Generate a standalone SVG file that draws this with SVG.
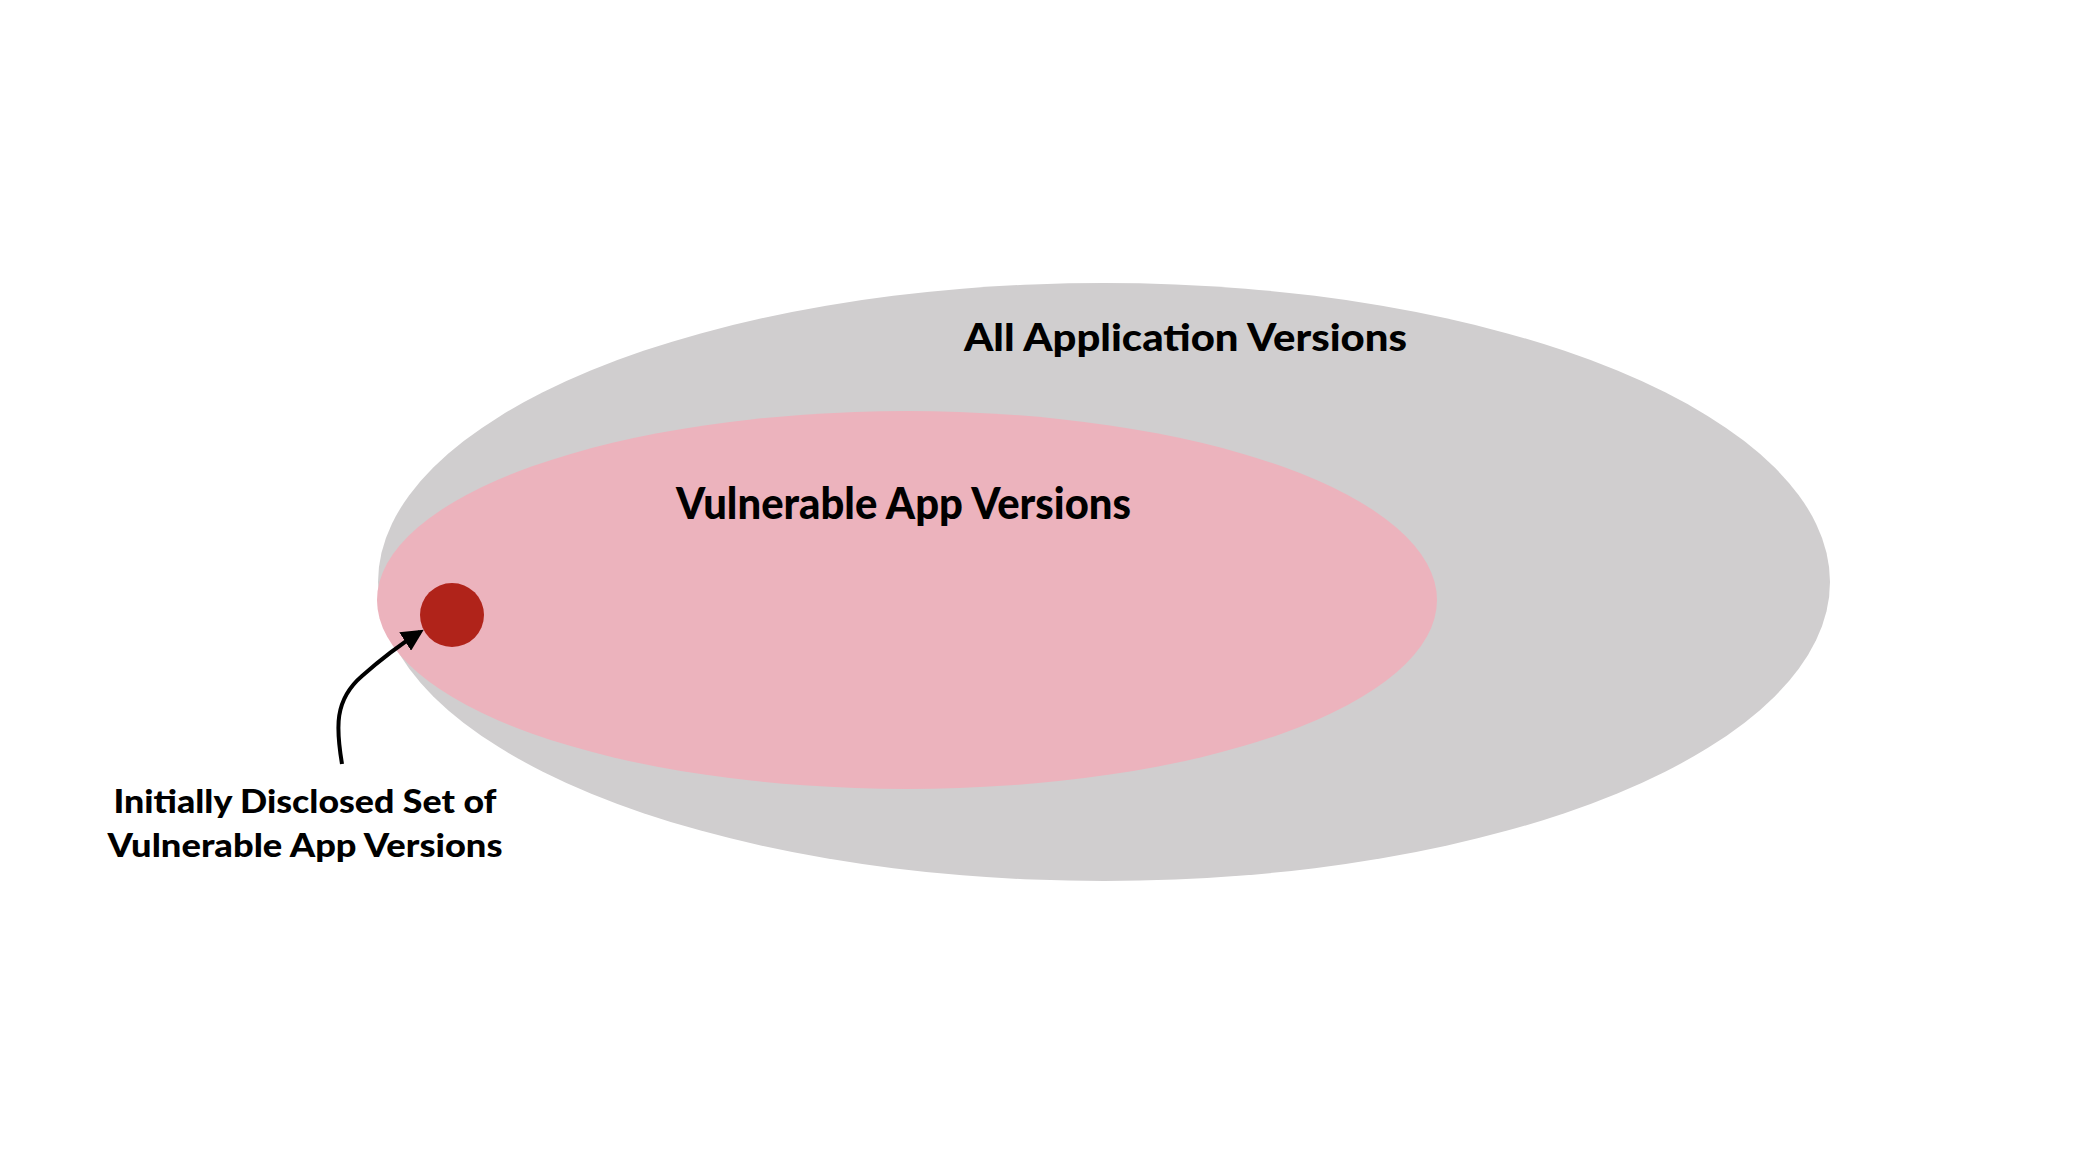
<svg xmlns="http://www.w3.org/2000/svg" width="2084" height="1162" viewBox="0 0 2084 1162">
<style>
.t{font-family:Lato,"Open Sans","Liberation Sans",sans-serif;font-weight:900;fill:#000}
</style>
<defs>
<marker id="ah" viewBox="0 0 10 10" refX="8" refY="5" markerWidth="5.5" markerHeight="5.5" orient="auto" markerUnits="strokeWidth">
<path d="M0,0 L10,5 L0,10 z" fill="#000"/>
</marker>
</defs>
<rect width="2084" height="1162" fill="#fff"/>
<g id="all-versions">
<ellipse cx="1104" cy="582" rx="726" ry="299" fill="#D0CECF"/>
<text class="t" x="964" y="351" font-size="38" textLength="443" lengthAdjust="spacingAndGlyphs">All Application Versions</text>
</g>
<g id="vulnerable-versions">
<ellipse cx="907" cy="600" rx="530" ry="189" fill="#ECB3BD"/>
<text class="t" x="676" y="519" font-size="43" textLength="455" lengthAdjust="spacingAndGlyphs">Vulnerable App Versions</text>
</g>
<g id="initial-set">
<circle cx="452" cy="615" r="32" fill="#B0231A"/>
</g>
<g id="initial-label">
<text class="t" font-size="32" text-anchor="middle"><tspan x="305" y="813" textLength="383" lengthAdjust="spacingAndGlyphs">Initially Disclosed Set of</tspan><tspan x="305" y="857" textLength="395" lengthAdjust="spacingAndGlyphs">Vulnerable App Versions</tspan></text>
</g>
<g id="connectors">
<path d="M342,764 C336,728 334,700 362,676 C380,660 398,646 420,632" fill="none" stroke="#000" stroke-width="4" marker-end="url(#ah)"/>
</g>
</svg>
